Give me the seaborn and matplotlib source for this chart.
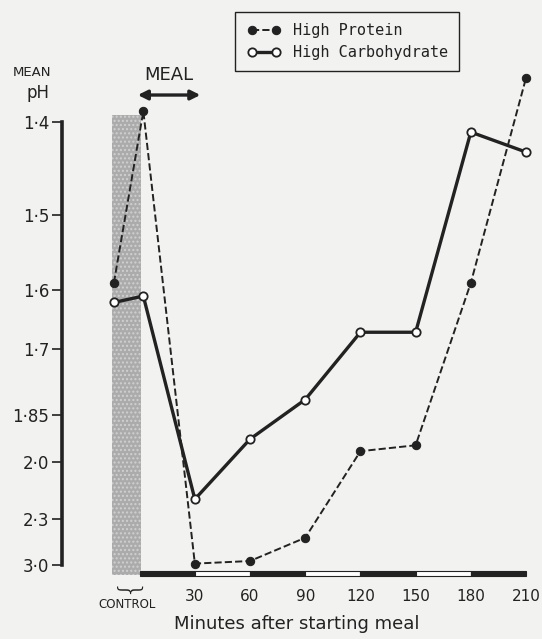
import seaborn as sns
import matplotlib.pyplot as plt
import matplotlib.transforms as mtransforms
from matplotlib.patches import Rectangle
import numpy as np

# -----------------------------------------------------------------------------
# Data (mean pH of gastric contents)
# -----------------------------------------------------------------------------
minutes = [-14, 2, 30, 60, 90, 120, 150, 180, 210]
high_protein = [1.59, 1.39, 2.95, 2.87, 2.47, 1.96, 1.94, 1.59, 1.36]
high_carbohydrate = [1.62, 1.61, 2.17, 1.92, 1.81, 1.67, 1.67, 1.41, 1.43]

ph_ticks = [1.4, 1.5, 1.6, 1.7, 1.85, 2.0, 2.3, 3.0]
ph_labels = ["1·4", "1·5", "1·6", "1·7", "1·85", "2·0", "2·3", "3·0"]
minute_ticks = [30, 60, 90, 120, 150, 180, 210]

control_span = (-15, 1)
meal_span = (-1, 33)

# -----------------------------------------------------------------------------
# Styling
# -----------------------------------------------------------------------------
sns.set_style("white")
ink = "#222222"
paper = "#f2f2f0"
plt.rcParams["font.family"] = ["DejaVu Sans"]

fig = plt.figure(figsize=(5.42, 6.39), dpi=100, facecolor=paper)
ax = fig.add_axes([62 / 542, 64 / 639, 469 / 542, 515 / 639], facecolor=paper)

# control period band
ax.axvspan(*control_span, ymin=0, ymax=0.893, facecolor="#ababab",
           edgecolor="#d0d0d0", hatch="....", linewidth=0, zorder=0)

sns.lineplot(x=minutes, y=high_protein, ax=ax, color=ink, linestyle="--",
             dashes=(3, 2), linewidth=1.4, marker="o", markersize=6,
             markerfacecolor=ink, markeredgecolor=ink, label="High Protein",
             estimator=None, sort=False, zorder=3)
sns.lineplot(x=minutes, y=high_carbohydrate, ax=ax, color=ink, linestyle="-",
             linewidth=2.4, marker="o", markersize=6, markerfacecolor="white",
             markeredgecolor=ink, markeredgewidth=1.3,
             label="High Carbohydrate", estimator=None, sort=False, zorder=4)

# hydrogen-ion (linear [H+]) scale, labelled in pH; low pH at the top
ax.set_yscale("function", functions=(lambda y: 10 ** (-np.asarray(y)),
                                     lambda h: -np.log10(np.clip(h, 1e-9, None))))
ax.set_ylim(1.3447, 3.905)
ax.set_xlim(-42.2, 212.7)

ax.set_yticks(ph_ticks, ph_labels)
ax.set_xticks(minute_ticks, [str(m) for m in minute_ticks])
ax.tick_params(axis="y", direction="out", length=7, width=1.2, colors=ink,
               labelsize=12, pad=2, left=True)
ax.tick_params(axis="x", length=0, labelsize=11, colors=ink, pad=10)

for side in ["top", "right", "bottom"]:
    ax.spines[side].set_visible(False)
ax.spines["left"].set_bounds(1.4, 3.0)
ax.spines["left"].set_linewidth(2.6)
ax.spines["left"].set_color(ink)

ax.set_xlabel("Minutes after starting meal", fontsize=13, color=ink, labelpad=8)
ax.set_ylabel("")

# striped time bar along the bottom
trans = mtransforms.blended_transform_factory(ax.transData, ax.transAxes)
edges = [0] + minute_ticks
for i in range(len(edges) - 1):
    ax.add_patch(Rectangle((edges[i], -0.002), edges[i + 1] - edges[i], 0.01,
                           transform=trans, facecolor=ink if i % 2 == 0 else "white",
                           edgecolor=ink, linewidth=0.8, clip_on=False, zorder=2))

# control brace and label
ax.text(np.mean(control_span), -0.019, "{", transform=trans, rotation=90,
        fontsize=21, ha="center", va="center", color=ink, fontweight="light")
ax.text(np.mean(control_span), -0.057, "CONTROL", transform=trans,
        fontsize=8.5, ha="center", va="center", color=ink)

# meal arrow
ax.annotate("", xy=(meal_span[0], 0.932), xytext=(meal_span[1], 0.932),
            xycoords=trans, textcoords=trans,
            arrowprops=dict(arrowstyle="<|-|>", lw=2.4, color=ink,
                            mutation_scale=14, shrinkA=0, shrinkB=0))
ax.text(np.mean(meal_span), 0.971, "MEAL", transform=trans, fontsize=13,
        ha="center", va="center", color=ink)

fig.text(32 / 542, 1 - 72 / 639, "MEAN", fontsize=9.5, ha="center", va="center", color=ink)
fig.text(38 / 542, 1 - 93 / 639, "pH", fontsize=12, ha="center", va="center", color=ink)

leg = ax.legend(loc="center", bbox_to_anchor=(0.641, 0.935),
                bbox_transform=fig.transFigure, numpoints=2, handlelength=2.2,
                frameon=True, fancybox=False, edgecolor=ink, facecolor=paper,
                framealpha=1, borderpad=0.75, labelspacing=0.45,
                prop={"family": "DejaVu Sans Mono", "size": 11})
leg.get_frame().set_linewidth(1.0)
for t in leg.get_texts():
    t.set_color(ink)

fig.savefig("out.png", dpi=100, facecolor=paper)
plt.close(fig)
